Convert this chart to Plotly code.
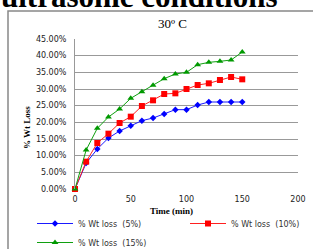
import plotly.graph_objects as go

time_min = [0, 10, 20, 30, 40, 50, 60, 70, 80, 90, 100, 110, 120, 130, 140, 150]
loss_5 = [0.0, 7.8, 12.0, 15.3, 17.4, 19.0, 20.5, 21.3, 22.5, 23.8, 23.8, 25.2, 26.1, 26.1, 26.1, 26.1]
loss_10 = [0.0, 8.2, 13.8, 16.6, 19.8, 21.7, 24.9, 26.6, 28.5, 28.7, 30.0, 31.2, 31.7, 32.7, 33.6, 32.9]
loss_15 = [0.0, 11.7, 18.2, 21.6, 24.0, 27.2, 29.2, 31.1, 33.1, 34.5, 35.0, 37.3, 38.0, 38.3, 38.7, 41.1]
y_ticks = [0, 5, 10, 15, 20, 25, 30, 35, 40, 45]
x_ticks = [0, 50, 100, 150, 200]
series_names = ["% Wt loss  (5%)", "% Wt loss  (10%)", "% Wt loss  (15%)"]

W, H = 313, 249
L, R, T, B = 75, 15, 39, 60
pw, ph = W - L - R, H - T - B


def px_x(p):
    return (p - L) / pw


def px_y(p):
    return (H - B - p) / ph


fig = go.Figure()
fig.add_trace(go.Scatter(x=time_min, y=loss_5, name=series_names[0], mode="lines+markers",
                         line=dict(color="#1a1aff", width=1),
                         marker=dict(symbol="diamond", size=5, color="#0000ff"),
                         cliponaxis=False, legend="legend"))
fig.add_trace(go.Scatter(x=time_min, y=loss_10, name=series_names[1], mode="lines+markers",
                         line=dict(color="#ff2020", width=1),
                         marker=dict(symbol="square", size=6, color="#ff0000"),
                         cliponaxis=False, legend="legend2"))
fig.add_trace(go.Scatter(x=time_min, y=loss_15, name=series_names[2], mode="lines+markers",
                         line=dict(color="#10a010", width=1),
                         marker=dict(symbol="triangle-up", size=6, color="#009900"),
                         cliponaxis=False, legend="legend"))

tick_font = dict(family="DejaVu Sans", size=8, color="#222")
legend_font = dict(family="DejaVu Sans", size=8, color="#333")

fig.update_layout(
    width=W, height=H,
    margin=dict(l=L, r=R, t=T, b=B, autoexpand=False),
    paper_bgcolor="white", plot_bgcolor="white",
    xaxis=dict(range=[0, 200], tickvals=x_ticks, ticktext=[str(v) for v in x_ticks],
               showgrid=False, zeroline=False, showline=False,
               tickfont=tick_font, ticks="", ticklabelstandoff=4),
    yaxis=dict(range=[0, 45], tickvals=y_ticks, ticktext=["%.2f%%" % v for v in y_ticks],
               showgrid=True, gridcolor="#999", gridwidth=1, zeroline=False,
               showline=True, linecolor="#999", linewidth=1,
               tickfont=tick_font, ticks="", ticklabelstandoff=6),
    legend=dict(orientation="v", x=px_x(32), xanchor="left", y=px_y(209), yanchor="top",
                font=legend_font, itemwidth=36, bgcolor="rgba(0,0,0,0)", tracegroupgap=0),
    legend2=dict(orientation="v", x=px_x(185), xanchor="left", y=px_y(209), yanchor="top",
                 font=legend_font, itemwidth=36, bgcolor="rgba(0,0,0,0)"),
    showlegend=True,
)

# chart frame
fig.add_shape(type="rect", xref="paper", yref="paper",
              x0=px_x(8), x1=px_x(330), y0=px_y(270), y1=px_y(11),
              line=dict(color="#888", width=1.5), fillcolor="rgba(0,0,0,0)", layer="below")

# document heading (cut off at top)
fig.add_annotation(text="<b>ultrasonic conditions</b>", xref="paper", yref="paper",
                   x=px_x(-1), y=px_y(-3), xanchor="left", yanchor="middle", showarrow=False,
                   font=dict(family="Liberation Serif", size=31, color="#000"))
# chart title
fig.add_annotation(text="30º C", xref="paper", yref="paper",
                   x=px_x(172), y=px_y(24), xanchor="center", yanchor="middle", showarrow=False,
                   font=dict(family="Liberation Serif", size=13, color="#000"))
# axis titles
fig.add_annotation(text="<b>% Wt Loss</b>", xref="paper", yref="paper",
                   x=px_x(27), y=px_y(128), xanchor="center", yanchor="middle", showarrow=False,
                   textangle=-90, font=dict(family="Liberation Serif", size=9, color="#000"))
fig.add_annotation(text="<b>Time (min)</b>", xref="paper", yref="paper",
                   x=px_x(171), y=px_y(211), xanchor="center", yanchor="middle", showarrow=False,
                   font=dict(family="Liberation Serif", size=9, color="#000"))

fig.write_html("out.html", config={"displayModeBar": False},
               post_script="document.body.style.margin='0';document.body.style.overflow='hidden';")
